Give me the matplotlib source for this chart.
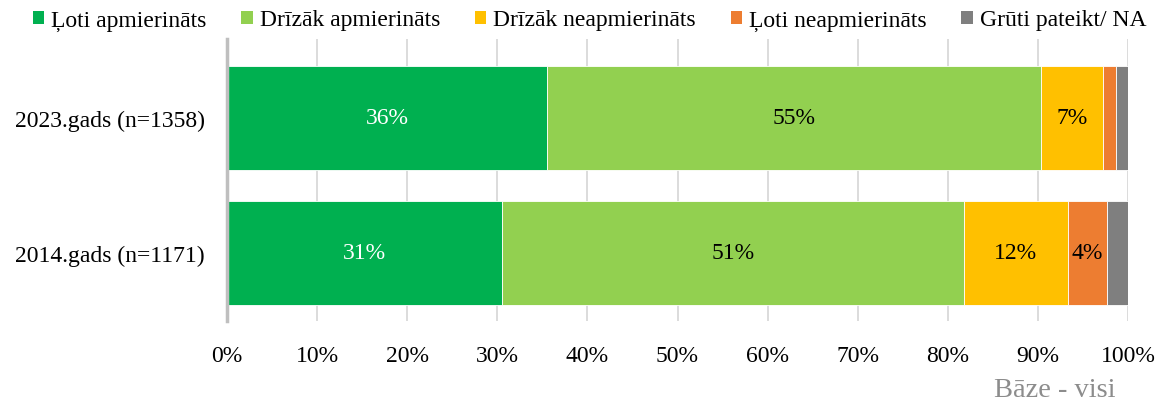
import matplotlib
matplotlib.use("Agg")
import matplotlib.pyplot as plt
from matplotlib.patches import Patch
from matplotlib.ticker import MultipleLocator, PercentFormatter

plt.rcParams['font.family'] = ['Liberation Serif', 'DejaVu Serif']

years = ["2014.gads (n=1171)", "2023.gads (n=1358)"]
series = ["Ļoti apmierināts", "Drīzāk apmierināts", "Drīzāk neapmierināts",
          "Ļoti neapmierināts", "Grūti pateikt/ NA"]
very_sat = [30.5, 35.5]
rather_sat = [51.3, 54.8]
rather_unsat = [11.5, 6.9]
very_unsat = [4.4, 1.5]
hard_na = [2.3, 1.3]
labels_very_sat = ["31%", "36%"]
labels_rather_sat = ["51%", "55%"]
labels_rather_unsat = ["12%", "7%"]
labels_very_unsat = ["4%", ""]

colors = ["#00b050", "#92d050", "#ffc000", "#ed7d31", "#7f7f7f"]
text_colors = ["white", "black", "black", "black", "black"]

fig = plt.figure(figsize=(11.55, 4.06), dpi=100)
ax = fig.add_axes([227/1155, 1 - 322/406, (1128 - 227)/1155, (322 - 40)/406])

data = [very_sat, rather_sat, rather_unsat, very_unsat, hard_na]
lbls = [labels_very_sat, labels_rather_sat, labels_rather_unsat, labels_very_unsat, None]
ypos = [0, 1]
left = [0.0, 0.0]
for i, vals in enumerate(data):
    bars = ax.barh(ypos, vals, left=left, height=0.77, color=colors[i],
                   edgecolor="white", linewidth=0.6, zorder=3)
    if lbls[i] is not None:
        ax.bar_label(bars, labels=lbls[i], label_type="center",
                     color=text_colors[i], fontsize=17)
    left = [l + v for l, v in zip(left, vals)]

ax.set_xlim(0, 100)
ax.set_ylim(-0.504, 1.585)
ax.set_yticks(ypos)
ax.set_yticklabels(years, fontsize=17)
ax.xaxis.set_major_locator(MultipleLocator(10))
ax.xaxis.set_major_formatter(PercentFormatter(decimals=0))
ax.tick_params(axis="x", labelsize=17, length=0, pad=17)
ax.tick_params(axis="y", length=0, pad=16)
ax.grid(axis="x", color="#d9d9d9", linewidth=1.3, zorder=0)
for s in ["top", "right", "bottom"]:
    ax.spines[s].set_visible(False)
ax.spines["left"].set_color("#bfbfbf")
ax.spines["left"].set_linewidth(2.5)
ax.spines["left"].set_zorder(4)

handles = [Patch(facecolor=c, edgecolor="none") for c in colors]
fig.legend(handles, series, loc="center", bbox_to_anchor=(589.5/1155, 1 - 21/406),
           ncol=5, frameon=False, fontsize=17, handlelength=0.47, handleheight=0.47,
           handletextpad=0.3, columnspacing=1.48, borderpad=0, borderaxespad=0)

fig.text(1116/1155, 1 - 397/406, "Bāze - visi", color="#8c8c8c", fontsize=20.5,
         ha="right", va="baseline")

fig.savefig("out.png", dpi=100)
